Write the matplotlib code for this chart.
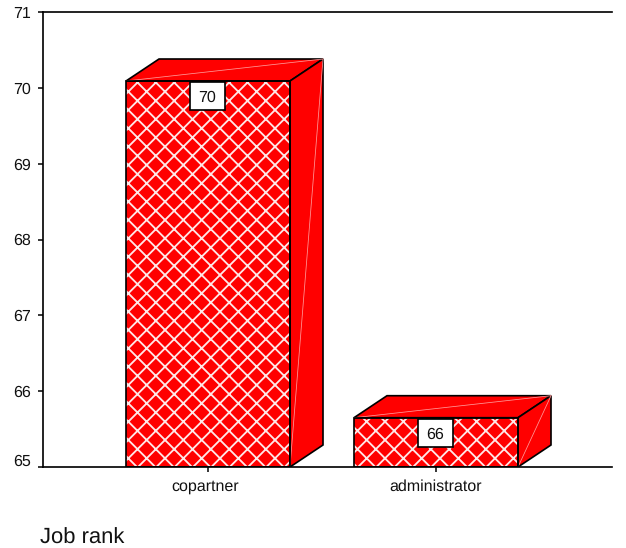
import matplotlib
matplotlib.use("Agg")
import matplotlib.pyplot as plt
from matplotlib.patches import Polygon, Rectangle
from matplotlib.transforms import ScaledTranslation

categories = ["copartner", "administrator"]
values = [70.09, 65.65]
labels = ["70", "66"]
yticks = [65, 66, 67, 68, 69, 70, 71]
xlabel = "Job rank"

W, H, DPI = 626, 548, 110
plt.rcParams["font.family"] = ["Liberation Sans", "DejaVu Sans"]
plt.rcParams["hatch.linewidth"] = 1.2
plt.rcParams["hatch.color"] = "#ffe8e8"
plt.rcParams["text.hinting"] = "no_hinting"
plt.rcParams["text.hinting_factor"] = 1

fig = plt.figure(figsize=(W / DPI, H / DPI), dpi=DPI)
ax = fig.add_axes([43 / W, 1 - 467 / H, (612 - 43) / W, (467 - 12) / H])
ax.set_ylim(65, 71)
ax.set_xlim(-165 / 228, 404 / 228)
ax.spines["right"].set_visible(False)
for s in ["left", "top", "bottom"]:
    ax.spines[s].set_linewidth(1.1)
    ax.spines[s].set_zorder(6)

px = 1 / 228
py = 6 / 455
hw = 82 * px
dx, dy = 33 * px, 22 * py
RED = "#ff0000"
PINK = "#ff9a9a"

for i, v in enumerate(values):
    l, r = i - hw, i + hw
    base = 65
    ax.bar(i, v - base, width=2 * hw, bottom=base, facecolor=RED, edgecolor="#ffe8e8",
           hatch="xx", linewidth=0, zorder=2)
    ax.add_patch(Rectangle((l, base), r - l, v - base, fill=False, ec="black", lw=1.1, zorder=4))
    ax.add_patch(Polygon([(l, v), (l + dx, v + dy), (r + dx, v + dy), (r, v)],
                         fc=RED, ec="black", lw=1.1, zorder=3))
    ax.add_patch(Polygon([(r, v), (r + dx, v + dy), (r + dx, base + dy), (r, base)],
                         fc=RED, ec="black", lw=1.1, zorder=3))
    ax.plot([l, r + dx], [v, v + dy], color=PINK, lw=0.5, zorder=3.5)
    ax.plot([r, r + dx], [base, v + dy], color=PINK, lw=0.5, zorder=3.5)
    bw, bh = 35 * px, 28 * py
    cy = v - 15 * py
    ax.add_patch(Rectangle((i - 0.5 * px - bw / 2, cy - bh / 2), bw, bh, fc="white", ec="black", lw=1.1, zorder=5))
    ax.text(i - 0.5 * px, cy, labels[i], ha="center", va="center_baseline", fontsize=10.5, color="#111111", zorder=6)

ax.set_xticks(range(len(categories)))
ax.set_xticklabels(categories, fontsize=10.5, color="#111111")
ax.set_yticks(yticks)
ax.set_yticklabels([str(t) for t in yticks], fontsize=10.5, color="#111111")
ax.tick_params(axis="y", length=3, width=1, pad=5)
ax.tick_params(axis="x", length=3, width=1, pad=5)
lab = ax.get_yticklabels()[0]
lab.set_transform(lab.get_transform() + ScaledTranslation(0, 7 / DPI, fig.dpi_scale_trans))
xlab = ax.get_xticklabels()[0]
xlab.set_transform(xlab.get_transform() + ScaledTranslation(-3 / DPI, 0, fig.dpi_scale_trans))
fig.text(40 / W, 1 - 538 / H, xlabel, fontsize=14.6, color="#111111", va="center", ha="left")
fig.savefig("out.png", dpi=DPI)
